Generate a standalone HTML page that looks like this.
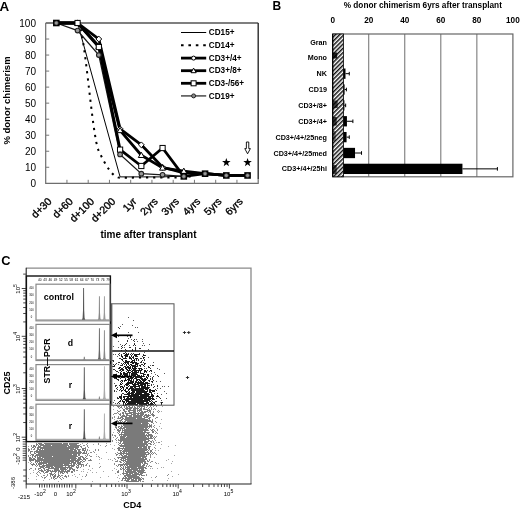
<!DOCTYPE html>
<html><head><meta charset="utf-8"><style>
html,body{margin:0;padding:0;background:#fff;}
svg{display:block;filter:grayscale(1);}
text{font-family:"Liberation Sans",sans-serif;fill:#000;}
.b{font-weight:bold;}
</style></head><body>
<svg width="520" height="508" viewBox="0 0 520 508">
<text x="-0.6" y="11" class="b" font-size="13.4">A</text>
<path d="M45.7 23H258.2" fill="none" stroke="#555" stroke-width="1.4"/>
<path d="M258.2 23V179.3" fill="none" stroke="#2a2a2a" stroke-width="1.4"/>
<path d="M45.7 23V183.3H258.2V179.3" fill="none" stroke="#6e6e6e" stroke-width="1.2"/>
<text x="36" y="186.9" text-anchor="end" font-size="10">0</text>
<text x="36" y="170.87" text-anchor="end" font-size="10">10</text>
<text x="36" y="154.84" text-anchor="end" font-size="10">20</text>
<text x="36" y="138.81" text-anchor="end" font-size="10">30</text>
<text x="36" y="122.78" text-anchor="end" font-size="10">40</text>
<text x="36" y="106.75" text-anchor="end" font-size="10">50</text>
<text x="36" y="90.72" text-anchor="end" font-size="10">60</text>
<text x="36" y="74.69" text-anchor="end" font-size="10">70</text>
<text x="36" y="58.66" text-anchor="end" font-size="10">80</text>
<text x="36" y="42.63" text-anchor="end" font-size="10">90</text>
<text x="36" y="26.6" text-anchor="end" font-size="10">100</text>
<path d="M45.7 167.27h3.5M45.7 151.24h3.5M45.7 135.21h3.5M45.7 119.18h3.5M45.7 103.15h3.5M45.7 87.12h3.5M45.7 71.09h3.5M45.7 55.06h3.5M45.7 39.03h3.5M66.95 183.3v-3.5M88.2 183.3v-3.5M109.45 183.3v-3.5M130.7 183.3v-3.5M151.95 183.3v-3.5M173.2 183.3v-3.5M194.45 183.3v-3.5M215.7 183.3v-3.5M236.95 183.3v-3.5" stroke="#777" stroke-width="1"/>
<text transform="translate(9.6 100.5) rotate(-90)" text-anchor="middle" class="b" font-size="9.5">% donor chimerism</text>
<text transform="translate(52.33 202) rotate(-45)" text-anchor="end" font-size="10.5" stroke="#000" stroke-width="0.35">d+30</text>
<text transform="translate(73.58 202) rotate(-45)" text-anchor="end" font-size="10.5" stroke="#000" stroke-width="0.35">d+60</text>
<text transform="translate(94.83 202) rotate(-45)" text-anchor="end" font-size="10.5" stroke="#000" stroke-width="0.35">d+100</text>
<text transform="translate(116.08 202) rotate(-45)" text-anchor="end" font-size="10.5" stroke="#000" stroke-width="0.35">d+200</text>
<text transform="translate(137.32 202) rotate(-45)" text-anchor="end" font-size="10.5" stroke="#000" stroke-width="0.35">1yr</text>
<text transform="translate(158.57 202) rotate(-45)" text-anchor="end" font-size="10.5" stroke="#000" stroke-width="0.35">2yrs</text>
<text transform="translate(179.82 202) rotate(-45)" text-anchor="end" font-size="10.5" stroke="#000" stroke-width="0.35">3yrs</text>
<text transform="translate(201.07 202) rotate(-45)" text-anchor="end" font-size="10.5" stroke="#000" stroke-width="0.35">4yrs</text>
<text transform="translate(222.32 202) rotate(-45)" text-anchor="end" font-size="10.5" stroke="#000" stroke-width="0.35">5yrs</text>
<text transform="translate(243.57 202) rotate(-45)" text-anchor="end" font-size="10.5" stroke="#000" stroke-width="0.35">6yrs</text>
<text x="148.5" y="238" text-anchor="middle" class="b" font-size="10">time after transplant</text>
<path d="M56.33 23L77.58 23L120.08 176.89L141.32 176.89L162.57 176.89L183.82 176.09L205.07 173.68L226.32 175.45L247.57 175.45" fill="none" stroke="#000" stroke-width="1"/>
<path d="M56.33 23C63.41 23 70.49 23 77.58 23C84.66 23 91.74 136.55 98.83 151.24C105.91 165.93 112.99 177.85 120.08 177.85C127.16 177.85 134.24 177.53 141.32 177.53C148.41 177.53 155.49 177.53 162.57 177.53C169.66 177.53 176.74 177.4 183.82 177.21C190.91 177.01 197.99 173.68 205.07 173.68C212.16 173.68 219.24 175.45 226.32 175.45C233.41 175.45 240.49 175.45 247.57 175.45" fill="none" stroke="#000" stroke-width="2" stroke-dasharray="2.2 4.9"/>
<path d="M56.33 23L77.58 30.53L98.83 55.06L120.08 154.45L141.32 173.68L162.57 174.8L183.82 176.41L205.07 173.68L226.32 175.45L247.57 175.45" fill="none" stroke="#1a1a1a" stroke-width="1.3"/>
<path d="M56.33 23L77.58 23L98.83 47.04L120.08 149.64L141.32 165.99L162.57 148.03L183.82 176.41L205.07 173.68L226.32 175.45L247.57 175.45" fill="none" stroke="#000" stroke-width="2.8" stroke-linejoin="round"/>
<path d="M56.33 23L77.58 23L98.83 46.24L120.08 130.4L141.32 155.25L162.57 167.91L183.82 171.12L205.07 173.68L226.32 175.45L247.57 175.45" fill="none" stroke="#000" stroke-width="2.8" stroke-linejoin="round"/>
<path d="M56.33 23L77.58 23L98.83 39.03L120.08 128.8L141.32 144.83L162.57 167.27L183.82 172.88L205.07 173.68L226.32 175.45L247.57 175.45" fill="none" stroke="#000" stroke-width="2.8" stroke-linejoin="round"/>
<path d="M77.58 20.1L80.48 23L77.58 25.9L74.67 23Z" fill="#fff" stroke="#000" stroke-width="1"/>
<path d="M98.83 36.13L101.73 39.03L98.83 41.93L95.92 39.03Z" fill="#fff" stroke="#000" stroke-width="1"/>
<path d="M120.08 125.9L122.98 128.8L120.08 131.7L117.17 128.8Z" fill="#fff" stroke="#000" stroke-width="1"/>
<path d="M141.32 141.93L144.22 144.83L141.32 147.73L138.42 144.83Z" fill="#fff" stroke="#000" stroke-width="1"/>
<path d="M162.57 164.37L165.47 167.27L162.57 170.17L159.67 167.27Z" fill="#fff" stroke="#000" stroke-width="1"/>
<path d="M77.58 20L80.58 25.25L74.58 25.25Z" fill="#fff" stroke="#000" stroke-width="1"/>
<path d="M98.83 43.24L101.83 48.49L95.83 48.49Z" fill="#fff" stroke="#000" stroke-width="1"/>
<path d="M120.08 127.4L123.08 132.65L117.08 132.65Z" fill="#fff" stroke="#000" stroke-width="1"/>
<path d="M141.32 152.25L144.32 157.5L138.32 157.5Z" fill="#fff" stroke="#000" stroke-width="1"/>
<path d="M162.57 164.91L165.57 170.16L159.57 170.16Z" fill="#fff" stroke="#000" stroke-width="1"/>
<path d="M183.82 168.12L186.82 173.37L180.82 173.37Z" fill="#fff" stroke="#000" stroke-width="1"/>
<rect x="74.98" y="20.4" width="5.2" height="5.2" fill="#fff" stroke="#000" stroke-width="1"/>
<rect x="96.23" y="44.44" width="5.2" height="5.2" fill="#fff" stroke="#000" stroke-width="1"/>
<rect x="117.48" y="147.04" width="5.2" height="5.2" fill="#fff" stroke="#000" stroke-width="1"/>
<rect x="138.72" y="163.39" width="5.2" height="5.2" fill="#fff" stroke="#000" stroke-width="1"/>
<rect x="159.97" y="145.43" width="5.2" height="5.2" fill="#fff" stroke="#000" stroke-width="1"/>
<rect x="53.03" y="19.7" width="6.6" height="6.6" fill="#000"/>
<circle cx="56.33" cy="23" r="1.9" fill="#9a9a9a" stroke="#444" stroke-width="0.7"/>
<circle cx="77.58" cy="30.53" r="2.35" fill="#999" stroke="#222" stroke-width="1.1"/>
<circle cx="98.83" cy="55.06" r="2.35" fill="#999" stroke="#222" stroke-width="1.1"/>
<circle cx="120.08" cy="154.45" r="2.35" fill="#999" stroke="#222" stroke-width="1.1"/>
<circle cx="141.32" cy="173.68" r="2.35" fill="#999" stroke="#222" stroke-width="1.1"/>
<circle cx="162.57" cy="174.8" r="2.35" fill="#999" stroke="#222" stroke-width="1.1"/>
<rect x="180.52" y="173.11" width="6.6" height="6.6" fill="#000"/>
<circle cx="183.82" cy="176.41" r="1.9" fill="#9a9a9a" stroke="#444" stroke-width="0.7"/>
<rect x="201.77" y="170.38" width="6.6" height="6.6" fill="#000"/>
<circle cx="205.07" cy="173.68" r="1.9" fill="#9a9a9a" stroke="#444" stroke-width="0.7"/>
<rect x="223.02" y="172.15" width="6.6" height="6.6" fill="#000"/>
<circle cx="226.32" cy="175.45" r="1.9" fill="#9a9a9a" stroke="#444" stroke-width="0.7"/>
<rect x="244.27" y="172.15" width="6.6" height="6.6" fill="#000"/>
<circle cx="247.57" cy="175.45" r="1.9" fill="#9a9a9a" stroke="#444" stroke-width="0.7"/>
<path d="M226.32 158L227.38 161.04L230.6 161.11L228.04 163.06L228.97 166.14L226.32 164.3L223.68 166.14L224.61 163.06L222.05 161.11L225.27 161.04Z" fill="#000"/>
<path d="M247.57 158L248.63 161.04L251.85 161.11L249.29 163.06L250.22 166.14L247.57 164.3L244.93 166.14L245.86 163.06L243.3 161.11L246.52 161.04Z" fill="#000"/>
<path d="M246.38 142h2.4v6.6h1.6L247.57 153.8L244.77 148.6h1.6Z" fill="#fff" stroke="#000" stroke-width="0.9"/>
<path d="M181 32.5H206.2" stroke="#000" stroke-width="1"/>
<path d="M181 45.2H206.2" stroke="#000" stroke-width="2" stroke-dasharray="2.6 4.8"/>
<path d="M181 58.1H206.2" stroke="#000" stroke-width="2.8"/>
<path d="M181 70.7H206.2" stroke="#000" stroke-width="2.8"/>
<path d="M181 83.3H206.2" stroke="#000" stroke-width="2.8"/>
<path d="M181 95.9H206.2" stroke="#555" stroke-width="1.6"/>
<circle cx="193.6" cy="58.1" r="2" fill="#fff" stroke="#000" stroke-width="1"/>
<path d="M193.6 68.1L196.2 72.7L191 72.7Z" fill="#fff" stroke="#000" stroke-width="1"/>
<rect x="191.1" y="80.8" width="5" height="5" fill="#fff" stroke="#000" stroke-width="1"/>
<circle cx="193.6" cy="95.9" r="2" fill="#8a8a8a" stroke="#222" stroke-width="1"/>
<text x="208.8" y="34.85" class="b" font-size="8.2">CD15+</text>
<text x="208.8" y="47.95" class="b" font-size="8.2">CD14+</text>
<text x="208.8" y="60.85" class="b" font-size="8.2">CD3+/4+</text>
<text x="208.8" y="73.45" class="b" font-size="8.2">CD3+/8+</text>
<text x="208.8" y="86.05" class="b" font-size="8.2">CD3-/56+</text>
<text x="208.8" y="98.65" class="b" font-size="8.2">CD19+</text>
<text x="272.6" y="10.2" class="b" font-size="12">B</text>
<text x="422.8" y="8" text-anchor="middle" class="b" font-size="8.25">% donor chimerism 6yrs after transplant</text>
<text x="332.7" y="23.2" text-anchor="middle" class="b" font-size="8.2">0</text>
<text x="368.74" y="23.2" text-anchor="middle" class="b" font-size="8.2">20</text>
<text x="404.78" y="23.2" text-anchor="middle" class="b" font-size="8.2">40</text>
<text x="440.82" y="23.2" text-anchor="middle" class="b" font-size="8.2">60</text>
<text x="476.86" y="23.2" text-anchor="middle" class="b" font-size="8.2">80</text>
<text x="512.9" y="23.2" text-anchor="middle" class="b" font-size="8.2">100</text>
<path d="M368.74 34.0V176.8M404.78 34.0V176.8M440.82 34.0V176.8M476.86 34.0V176.8" stroke="#6e6e6e" stroke-width="1"/>
<rect x="332.7" y="34.0" width="180.2" height="142.8" fill="none" stroke="#666" stroke-width="1.2"/>
<defs><pattern id="hat" patternUnits="userSpaceOnUse" width="3" height="4" patternTransform="rotate(45)"><rect width="3" height="4" fill="#fff"/><rect width="1.5" height="4" fill="#111"/></pattern></defs>
<rect x="332.7" y="34.0" width="10.72" height="142.8" fill="url(#hat)" stroke="#000" stroke-width="0.8"/>
<rect x="332.7" y="52.5" width="4.5" height="6" fill="#000" opacity="0.85"/>
<rect x="332.7" y="100.5" width="5" height="7.5" fill="#000" opacity="0.7"/>
<rect x="332.7" y="117" width="4" height="8.5" fill="#000" opacity="0.75"/>
<rect x="332.7" y="131" width="3" height="10" fill="#000" opacity="0.5"/>
<rect x="332.7" y="165" width="4" height="9" fill="#000" opacity="0.7"/>
<rect x="343.42" y="68.52" width="2.07" height="10.3" fill="#000"/>
<path d="M345.49 73.67H349.28M349.28 71.87v3.6" stroke="#000" stroke-width="1"/>
<rect x="343.42" y="84.38" width="1.17" height="10.3" fill="#000"/>
<path d="M344.59 89.53H346.4M346.4 87.73v3.6" stroke="#000" stroke-width="1"/>
<rect x="343.42" y="100.25" width="0.99" height="10.3" fill="#000"/>
<path d="M344.41 105.4H345.67M345.67 103.6v3.6" stroke="#000" stroke-width="1"/>
<rect x="343.42" y="116.12" width="3.51" height="10.3" fill="#000"/>
<path d="M346.94 121.27H352.88M352.88 119.47v3.6" stroke="#000" stroke-width="1"/>
<rect x="343.42" y="131.98" width="3.15" height="10.3" fill="#000"/>
<path d="M346.58 137.13H349.28M349.28 135.33v3.6" stroke="#000" stroke-width="1"/>
<rect x="343.42" y="147.85" width="11.62" height="10.3" fill="#000"/>
<path d="M355.04 153H361.53M361.53 151.2v3.6" stroke="#000" stroke-width="1"/>
<rect x="343.42" y="163.72" width="119.02" height="10.3" fill="#000"/>
<path d="M462.44 168.87H497.4M497.4 167.07v3.6" stroke="#000" stroke-width="1"/>
<path d="M332.7 34.0V176.8" stroke="#000" stroke-width="1.2"/>
<text x="327" y="44.53" text-anchor="end" class="b" font-size="7.2">Gran</text>
<text x="327" y="60.4" text-anchor="end" class="b" font-size="7.2">Mono</text>
<text x="327" y="76.27" text-anchor="end" class="b" font-size="7.2">NK</text>
<text x="327" y="92.13" text-anchor="end" class="b" font-size="7.2">CD19</text>
<text x="327" y="108" text-anchor="end" class="b" font-size="7.2">CD3+/8+</text>
<text x="327" y="123.87" text-anchor="end" class="b" font-size="7.2">CD3+/4+</text>
<text x="327" y="139.73" text-anchor="end" class="b" font-size="7.2">CD3+/4+/25neg</text>
<text x="327" y="155.6" text-anchor="end" class="b" font-size="7.2">CD3+/4+/25med</text>
<text x="327" y="171.47" text-anchor="end" class="b" font-size="7.2">CD3+/4+/25hi</text>
<text x="1.2" y="264.8" class="b" font-size="12.8">C</text>
<g transform="translate(0 0.5)" fill="none" stroke-width="1">
<path d="M113 406h1M162 406h1M113 409h1M161 411h1M114 419h1M161 419h1M160 423h1M159 426h1M161 428h1M114 429h1M113 432h1M113 437h1M161 441h1M116 442h1M156 442h1M82 443h1M106 443h1M93 444h1M110 444h1M161 444h1M100 445h1M114 445h1M155 445h1M175 445h1M28 446h1M168 446h1M112 448h1M160 448h1M114 449h1M89 450h1M155 450h1M158 450h1M106 452h1M96 454h1M174 455h1M96 456h1M154 457h1M101 458h1M99 459h1M108 459h1M110 459h1M168 459h1M112 460h1M166 460h1M172 461h1M28 462h1M99 463h1M158 463h1M171 463h1M161 467h1M163 467h1M92 468h1M114 468h1M150 468h1M152 468h1M157 468h1M83 469h1M88 469h1M116 469h1M33 470h1M90 470h1M112 470h1M81 471h1M83 471h1M103 471h1M171 471h1M33 472h1M87 472h1M92 472h1M96 472h1M30 473h1M115 473h1M74 474h1M79 474h1M120 474h1M178 474h1M72 475h1M118 475h1M36 476h1M75 476h1M82 476h1M108 476h1M172 476h1M77 477h1M100 477h1M117 477h1M151 477h1M28 478h1M119 478h1M168 478h1M36 479h1M49 479h1M81 479h1M43 480h1M152 480h1M167 480h1M58 481h1M92 481h1M118 481h1" stroke="#a8a8a8"/>
<path d="M160 402h1M116 405h1M120 405h1M156 405h1M153 406h1M156 406h1M124 407h1M146 407h1M149 407h1M151 407h1M119 408h1M122 408h1M151 408h1M154 408h1M151 409h1M153 409h1M155 409h1M117 410h1M120 410h1M158 410h1M119 411h1M126 411h1M153 411h1M157 411h1M159 411h1M148 412h1M153 412h1M158 412h1M114 413h3M118 413h1M120 413h1M150 413h1M113 414h1M150 415h1M114 416h1M118 416h1M112 417h1M114 417h1M150 417h1M156 417h2M112 418h1M117 418h1M155 418h1M152 419h1M117 420h1M155 421h1M114 422h1M156 422h1M114 423h1M116 423h2M153 423h1M114 424h1M151 424h1M121 425h1M154 425h1M115 426h1M118 426h1M153 426h1M151 427h1M154 427h1M156 428h1M150 429h1M157 429h1M148 430h1M157 430h1M155 431h1M117 432h1M149 432h1M155 433h1M157 433h1M112 434h1M112 435h1M114 435h2M115 436h1M154 436h1M156 436h1M117 437h1M116 438h1M115 439h1M118 439h1M154 439h1M112 440h1M116 440h1M118 440h1M152 440h1M155 440h1M112 441h1M153 441h1M118 442h1M153 442h1M158 442h2M36 443h1M78 443h1M87 443h1M98 443h1M154 443h1M80 444h1M86 444h1M98 444h1M118 444h1M151 444h1M153 444h1M31 445h1M83 445h2M87 445h1M106 445h1M31 446h1M81 446h1M87 446h1M105 446h1M150 446h1M85 447h1M88 447h1M154 447h1M28 448h1M31 448h1M155 448h1M31 449h1M33 449h2M80 449h1M87 449h1M95 449h1M98 449h1M152 449h1M87 450h1M95 450h1M98 450h1M28 451h1M32 451h1M34 451h1M93 451h1M90 452h2M94 452h1M117 452h1M154 452h1M30 453h1M88 453h1M115 453h1M155 453h1M152 454h1M156 454h1M28 455h1M30 455h1M85 455h1M87 455h1M89 455h1M116 455h1M119 455h1M150 455h1M28 456h1M90 456h2M98 456h1M150 456h1M99 457h1M117 457h1M150 457h1M87 458h1M114 458h1M115 459h1M149 459h1M88 460h1M91 460h1M117 460h1M149 460h1M84 461h1M115 461h1M117 461h1M119 461h1M147 461h1M151 461h2M31 462h1M82 462h1M121 462h1M150 462h1M155 462h1M30 463h1M87 463h1M114 463h1M147 463h1M156 463h1M83 464h1M114 464h1M118 464h1M85 465h2M89 465h1M116 465h1M146 465h1M149 465h1M36 466h1M81 466h1M83 466h1M89 466h1M100 466h1M117 466h1M146 466h1M148 466h1M150 466h2M80 467h1M99 467h1M30 468h2M35 468h1M38 468h1M146 468h1M29 469h1M35 469h1M120 469h1M76 470h2M118 470h1M74 471h1M123 471h1M37 472h1M39 472h1M145 472h1M36 473h1M40 473h1M44 473h1M49 473h1M58 473h1M60 473h1M67 473h1M37 474h1M47 474h1M86 474h1M146 474h1M168 474h1M38 475h1M43 475h2M47 475h1M61 475h2M68 475h1M86 475h1M143 475h2M146 475h1M167 475h1M41 476h1M46 476h1M50 476h1M64 476h1M68 476h1M85 476h1M156 476h1M42 477h1M44 477h1M51 477h1M62 477h1M66 477h1M141 477h1M155 477h1M44 478h1M51 478h1M56 478h1M60 478h1M63 478h1M143 478h1M54 479h1M61 479h1M143 479h1M121 480h2M124 480h1M140 481h1M142 481h2" stroke="#8c8c8c"/>
<path d="M134 388h1M122 405h1M124 405h1M126 405h1M129 405h5M135 405h1M137 405h1M139 405h2M144 405h1M148 405h1M150 405h2M154 405h1M117 406h3M121 406h1M124 406h1M126 406h1M128 406h2M132 406h1M134 406h1M137 406h8M147 406h1M150 406h1M118 407h1M120 407h2M126 407h2M129 407h4M134 407h2M137 407h1M139 407h1M141 407h1M144 407h1M125 408h7M133 408h6M140 408h2M143 408h2M148 408h1M123 409h2M126 409h2M129 409h2M133 409h3M137 409h1M139 409h3M143 409h5M149 409h1M123 410h2M128 410h8M137 410h5M147 410h4M118 411h1M124 411h2M128 411h2M133 411h3M137 411h1M139 411h1M141 411h2M144 411h4M149 411h2M117 412h1M122 412h2M125 412h1M129 412h7M138 412h1M140 412h6M150 412h1M122 413h2M125 413h7M133 413h11M152 413h1M119 414h2M123 414h1M126 414h2M131 414h5M137 414h2M140 414h4M145 414h2M148 414h1M151 414h3M120 415h1M122 415h3M126 415h6M133 415h10M144 415h6M152 415h3M121 416h6M129 416h3M133 416h9M143 416h2M146 416h3M153 416h1M118 417h1M120 417h3M125 417h17M144 417h4M149 417h1M118 418h3M122 418h2M125 418h11M137 418h8M148 418h2M121 419h2M124 419h24M149 419h1M119 420h3M125 420h26M152 420h1M117 421h2M120 421h1M122 421h1M124 421h2M127 421h26M118 422h4M123 422h2M126 422h22M151 422h2M120 423h3M124 423h17M142 423h7M123 424h25M149 424h1M123 425h25M149 425h3M119 426h1M121 426h2M124 426h28M115 427h2M118 427h1M120 427h2M123 427h25M149 427h1M116 428h1M119 428h6M126 428h18M145 428h2M148 428h1M117 429h2M120 429h1M122 429h1M124 429h24M152 429h2M117 430h4M122 430h26M151 430h2M154 430h1M118 431h2M122 431h1M124 431h19M144 431h2M152 431h2M119 432h1M121 432h28M152 432h2M156 432h1M118 433h1M121 433h1M124 433h21M147 433h2M119 434h26M146 434h1M148 434h4M119 435h1M121 435h1M123 435h30M120 436h6M127 436h19M147 436h2M150 436h3M120 437h5M126 437h21M148 437h1M150 437h2M153 437h1M155 437h1M120 438h33M154 438h1M120 439h29M119 440h27M148 440h2M120 441h2M123 441h20M144 441h5M150 441h2M120 442h1M123 442h20M144 442h4M151 442h1M38 443h4M44 443h18M63 443h5M69 443h9M119 443h2M122 443h25M148 443h3M36 444h2M39 444h5M45 444h23M69 444h8M121 444h1M124 444h24M150 444h1M33 445h2M36 445h1M38 445h1M40 445h11M52 445h17M70 445h10M119 445h26M146 445h2M33 446h3M38 446h3M43 446h24M68 446h11M80 446h1M120 446h27M148 446h2M32 447h2M35 447h1M37 447h42M81 447h1M118 447h2M123 447h1M125 447h13M139 447h3M143 447h4M148 447h2M34 448h1M37 448h2M40 448h34M75 448h3M82 448h4M117 448h30M148 448h2M28 449h2M37 449h4M42 449h1M44 449h25M70 449h6M77 449h3M82 449h2M85 449h1M118 449h2M122 449h1M124 449h24M149 449h1M28 450h2M36 450h2M39 450h34M74 450h3M78 450h2M82 450h4M118 450h4M123 450h24M148 450h1M150 450h2M30 451h2M35 451h42M78 451h3M84 451h1M86 451h1M120 451h1M122 451h23M147 451h1M150 451h2M30 452h1M34 452h1M36 452h46M83 452h2M86 452h1M120 452h2M123 452h2M126 452h1M128 452h21M150 452h1M152 452h1M34 453h2M38 453h43M82 453h5M118 453h28M148 453h2M151 453h1M153 453h1M31 454h3M36 454h36M73 454h4M78 454h2M87 454h1M116 454h2M120 454h2M123 454h1M126 454h23M150 454h1M32 455h2M35 455h42M78 455h2M121 455h2M124 455h3M128 455h17M146 455h1M32 456h1M34 456h2M37 456h1M39 456h13M53 456h25M80 456h3M86 456h1M122 456h25M29 457h2M32 457h1M35 457h1M37 457h4M42 457h34M78 457h3M82 457h2M85 457h1M118 457h23M142 457h4M29 458h3M33 458h2M37 458h6M44 458h33M78 458h3M83 458h2M86 458h1M118 458h1M121 458h5M127 458h17M145 458h2M29 459h7M37 459h33M71 459h5M77 459h5M83 459h3M90 459h1M120 459h2M123 459h1M125 459h22M29 460h5M35 460h45M82 460h1M85 460h1M89 460h2M121 460h5M127 460h18M147 460h1M30 461h1M35 461h5M41 461h1M43 461h31M75 461h4M80 461h2M83 461h1M116 461h1M120 461h1M123 461h1M125 461h21M148 461h1M35 462h1M37 462h1M39 462h31M71 462h5M77 462h4M120 462h1M124 462h1M126 462h17M144 462h2M33 463h1M36 463h1M38 463h9M48 463h24M73 463h3M77 463h4M123 463h1M125 463h16M142 463h1M144 463h3M31 464h4M36 464h1M38 464h4M43 464h1M46 464h17M64 464h5M71 464h1M73 464h2M76 464h1M78 464h5M86 464h1M119 464h22M143 464h2M147 464h1M32 465h1M35 465h1M37 465h1M39 465h1M42 465h33M77 465h2M81 465h1M83 465h1M118 465h1M120 465h3M124 465h1M126 465h2M129 465h12M142 465h3M39 466h6M46 466h7M54 466h9M65 466h1M68 466h2M71 466h3M76 466h1M78 466h1M120 466h1M123 466h1M125 466h1M127 466h17M40 467h4M45 467h5M51 467h3M55 467h17M76 467h3M121 467h1M123 467h1M125 467h12M138 467h8M39 468h2M43 468h2M48 468h11M60 468h6M67 468h1M69 468h4M77 468h1M120 468h1M122 468h2M125 468h1M127 468h3M131 468h13M145 468h1M38 469h1M41 469h1M44 469h1M46 469h3M54 469h5M60 469h7M69 469h2M72 469h3M121 469h1M123 469h2M126 469h12M139 469h1M141 469h3M39 470h4M44 470h2M47 470h4M52 470h1M54 470h6M61 470h3M65 470h1M67 470h3M73 470h2M123 470h1M125 470h1M127 470h5M133 470h12M38 471h1M41 471h3M46 471h3M50 471h7M58 471h12M71 471h2M117 471h2M125 471h11M137 471h7M43 472h1M45 472h3M51 472h1M55 472h1M58 472h1M60 472h3M64 472h1M66 472h2M71 472h2M117 472h2M123 472h1M126 472h11M138 472h7M50 473h2M54 473h1M62 473h2M122 473h6M129 473h4M134 473h5M140 473h3M50 474h4M55 474h1M58 474h1M123 474h1M126 474h5M132 474h10M50 475h1M52 475h1M54 475h2M58 475h2M65 475h1M124 475h13M139 475h1M141 475h2M53 476h3M57 476h2M60 476h1M65 476h2M124 476h2M127 476h12M45 477h1M53 477h2M57 477h1M59 477h1M123 477h1M125 477h2M128 477h12M53 478h1M55 478h1M122 478h10M133 478h8M142 478h1M122 479h1M125 479h1M127 479h3M131 479h3M135 479h2M138 479h4M125 480h4M131 480h6M138 480h3M126 481h13" stroke="#7a7a7a"/>
<path d="M128 317h1M133 320h1M122 324h1M132 325h1M120 326h1M135 327h1M137 327h1M128 332h1M138 332h1M116 334h1M118 336h1M127 336h1M128 338h1M131 339h1M136 339h1M142 339h1M118 341h1M137 341h1M142 341h1M143 343h1M120 344h1M149 344h1M129 345h1M142 345h1M144 345h1M113 346h1M118 347h1M124 347h1M148 349h1M121 350h1M144 352h1M113 354h1M115 354h1M117 356h1M148 357h1M153 362h1M118 364h1M150 365h1M144 368h1M146 368h1M157 368h1M159 369h1M154 372h1M151 373h1M164 373h1M155 374h1M150 376h1M114 378h1M156 381h1M160 381h1M114 383h1M153 384h1M162 386h1M164 386h1M168 386h1M157 388h1M160 388h1M116 391h1M164 391h1M154 393h1M157 393h1M166 393h1M161 394h1M156 398h1M166 398h1M114 400h1M161 400h1M113 402h1M115 403h1" stroke="#5a5a5a"/>
<path d="M118 327h1M119 328h1M130 336h1M130 337h1M134 339h1M127 340h1M133 340h1M127 341h1M134 341h1M126 343h1M134 343h1M125 344h1M122 345h1M124 345h1M133 345h1M135 345h1M121 346h1M122 347h1M129 347h2M135 347h1M121 348h1M135 348h1M139 348h2M125 349h1M132 349h1M135 349h1M126 350h1M132 350h1M135 350h1M125 352h1M119 353h1M123 353h1M128 353h1M131 353h1M133 353h1M139 353h1M118 354h1M121 354h1M130 354h1M139 354h1M143 354h1M119 355h1M145 355h1M129 356h1M137 356h1M142 356h1M144 357h1M119 358h2M126 358h1M140 358h2M138 359h1M144 359h1M112 360h2M136 360h1M138 360h1M142 360h1M144 360h1M113 361h1M123 361h1M118 362h2M140 362h2M143 362h1M116 363h1M121 363h1M138 363h1M145 363h1M113 364h1M115 364h1M124 364h1M141 364h2M120 365h1M122 365h1M139 365h1M152 365h2M112 366h1M114 366h1M137 366h1M140 366h1M144 366h1M148 366h1M123 367h1M148 367h1M118 368h1M138 368h1M150 368h1M113 369h2M115 370h1M119 370h1M147 370h1M151 370h1M116 371h2M126 371h1M149 371h1M151 371h1M118 372h1M138 372h1M146 372h1M140 373h1M113 374h1M115 374h1M129 374h1M145 374h1M117 375h2M157 375h1M114 376h1M144 376h1M153 376h1M158 376h1M118 377h2M152 377h1M116 378h1M120 378h1M125 378h1M150 378h1M152 378h1M118 379h1M150 379h1M152 379h1M118 380h1M122 380h1M148 380h1M153 380h1M120 381h1M124 381h1M149 381h1M151 381h1M152 382h1M122 383h1M149 383h1M151 384h1M115 385h2M119 385h1M124 385h1M149 385h1M151 385h1M157 385h1M115 386h1M124 386h1M154 386h1M157 386h1M117 387h1M149 387h1M153 387h1M116 388h1M117 389h1M155 389h1M114 390h1M119 390h1M156 390h1M114 391h1M121 391h1M122 393h2M121 394h1M124 394h2M156 396h1M117 397h1M159 397h1M117 398h1M160 398h1M154 399h1M120 401h1M155 401h2M162 402h1M117 403h1M119 403h1M161 404h1" stroke="#333"/>
<path d="M134 344h1M124 353h1M126 353h1M125 354h4M132 354h1M134 354h5M121 355h1M124 355h4M131 355h1M134 355h3M143 355h2M121 356h2M125 356h3M131 356h1M133 356h1M135 356h2M122 357h1M125 357h1M129 357h2M132 357h2M143 357h1M123 358h3M129 358h3M133 358h1M135 358h3M143 358h1M121 359h2M131 359h1M134 359h1M136 359h1M122 360h1M125 360h2M132 360h3M125 361h5M131 361h2M134 361h1M141 361h1M124 362h5M130 362h7M123 363h1M125 363h1M127 363h2M132 363h2M135 363h3M144 363h1M122 364h1M126 364h1M128 364h1M130 364h2M135 364h3M144 364h1M114 365h1M121 365h1M126 365h1M129 365h1M131 365h5M137 365h1M140 365h1M143 365h1M113 366h1M124 366h2M127 366h2M130 366h1M132 366h5M119 367h2M125 367h6M132 367h1M134 367h2M149 367h1M119 368h1M121 368h2M125 368h2M128 368h3M132 368h5M139 368h3M120 369h4M126 369h2M129 369h1M131 369h1M133 369h3M139 369h1M141 369h2M120 370h1M122 370h2M127 370h4M132 370h10M144 370h2M150 370h1M121 371h1M128 371h1M131 371h2M134 371h3M138 371h1M140 371h1M144 371h3M120 372h1M123 372h2M127 372h4M132 372h6M140 372h1M144 372h1M120 373h2M123 373h5M129 373h1M131 373h6M141 373h3M114 374h1M120 374h2M123 374h5M131 374h7M143 374h2M147 374h2M113 375h1M119 375h2M122 375h1M124 375h4M129 375h1M131 375h5M137 375h3M141 375h1M143 375h1M147 375h2M122 376h2M125 376h2M128 376h3M133 376h11M146 376h1M148 376h1M121 377h4M127 377h2M130 377h4M135 377h7M146 377h2M128 378h5M134 378h3M140 378h3M144 378h2M147 378h1M117 379h1M125 379h1M127 379h3M131 379h1M133 379h1M136 379h4M141 379h6M121 380h1M124 380h3M128 380h4M133 380h1M136 380h2M139 380h2M142 380h4M149 380h1M122 381h1M128 381h1M130 381h4M135 381h2M138 381h1M140 381h2M143 381h2M152 381h1M121 382h1M127 382h7M135 382h9M145 382h3M120 383h1M126 383h7M134 383h2M137 383h12M120 384h2M125 384h4M132 384h7M140 384h6M147 384h1M126 385h2M129 385h1M133 385h3M138 385h5M144 385h2M147 385h2M120 386h3M128 386h1M130 386h10M141 386h5M147 386h1M120 387h1M122 387h2M126 387h2M130 387h3M134 387h2M139 387h1M141 387h8M121 388h1M123 388h1M126 388h2M129 388h5M135 388h14M120 389h1M123 389h1M125 389h1M128 389h2M131 389h13M145 389h3M149 389h2M121 390h2M124 390h2M128 390h1M131 390h14M147 390h1M149 390h6M125 391h3M129 391h1M132 391h3M136 391h12M149 391h2M152 391h3M126 392h1M128 392h2M131 392h4M136 392h11M149 392h3M127 393h7M135 393h7M144 393h5M151 393h1M126 394h4M131 394h19M151 394h2M121 395h1M128 395h11M140 395h9M151 395h3M157 395h1M119 396h3M123 396h31M157 396h2M119 397h3M123 397h2M127 397h2M130 397h2M133 397h14M148 397h3M152 397h1M118 398h1M120 398h2M124 398h1M126 398h28M121 399h1M123 399h20M144 399h7M152 399h2M120 400h1M122 400h1M125 400h4M131 400h19M151 400h1M119 401h1M122 401h3M126 401h22M149 401h2M152 401h1M118 402h1M123 402h2M126 402h1M128 402h16M146 402h3M151 402h1M153 402h2M161 402h1M123 403h1M125 403h1M127 403h9M137 403h12M150 403h3M154 403h1M161 403h1M123 404h1M125 404h13M139 404h8M148 404h6M155 404h1M123 405h1M125 405h1M136 405h1M141 405h2M146 405h2" stroke="#1a1a1a"/>
</g>
<path d="M26.2 268.2H251V484.0" fill="none" stroke="#8a8a8a" stroke-width="1.3"/>
<path d="M26.2 267.7V484.0H251.5" fill="none" stroke="#222" stroke-width="1.1"/>
<path d="M26.2 437.2h-4.5M26.2 422.54h-3M26.2 413.96h-3M26.2 407.88h-3M26.2 403.16h-3M26.2 399.3h-3M26.2 396.04h-3M26.2 393.22h-3M26.2 390.73h-3M26.2 388.5h-4.5M26.2 372.79h-3M26.2 363.59h-3M26.2 357.07h-3M26.2 352.01h-3M26.2 347.88h-3M26.2 344.39h-3M26.2 341.36h-3M26.2 338.69h-3M26.2 336.3h-4.5M26.2 321.91h-3M26.2 313.49h-3M26.2 307.52h-3M26.2 302.89h-3M26.2 299.1h-3M26.2 295.9h-3M26.2 293.13h-3M26.2 290.69h-3M26.2 288.5h-4.5M26.2 274.11h-3M26.2 439.5h-3.5M26.2 441.8h-3.5M26.2 444.1h-3.5M26.2 446.4h-3.5M26.2 448.7h-3.5M26.2 451h-3.5M26.2 453.3h-3.5M26.2 455.6h-3.5M26.2 457.9h-3.5M26.2 460.2h-3.5M26.2 470h-3M26.2 476h-3M26.2 481h-3M75.8 484.0v4.5M91.21 484.0v3M100.23 484.0v3M106.63 484.0v3M111.59 484.0v3M115.64 484.0v3M119.07 484.0v3M122.04 484.0v3M124.66 484.0v3M127 484.0v4.5M142.41 484.0v3M151.43 484.0v3M157.83 484.0v3M162.79 484.0v3M166.84 484.0v3M170.27 484.0v3M173.24 484.0v3M175.86 484.0v3M178.2 484.0v4.5M193.61 484.0v3M202.63 484.0v3M209.03 484.0v3M213.99 484.0v3M218.04 484.0v3M221.47 484.0v3M224.44 484.0v3M227.06 484.0v3M229.4 484.0v4.5M39.5 484.0v3.5M42 484.0v3.5M44.5 484.0v3.5M47 484.0v3.5M49.5 484.0v3.5M52 484.0v3.5M54.5 484.0v3.5M57 484.0v3.5M59.5 484.0v3.5M62 484.0v3.5M64.5 484.0v3.5M67 484.0v3.5M69.5 484.0v3.5M72 484.0v3.5M26.2 484.0v4.5" stroke="#333" stroke-width="0.9"/>
<text transform="translate(19.5 288.9) rotate(-90)" font-size="6.0" fill="#444" text-anchor="middle">10<tspan dy="-2.8" font-size="5.1">5</tspan></text>
<text transform="translate(19.5 336.7) rotate(-90)" font-size="6.0" fill="#444" text-anchor="middle">10<tspan dy="-2.8" font-size="5.1">4</tspan></text>
<text transform="translate(19.5 388.9) rotate(-90)" font-size="6.0" fill="#444" text-anchor="middle">10<tspan dy="-2.8" font-size="5.1">3</tspan></text>
<text transform="translate(19.5 437.6) rotate(-90)" font-size="6.0" fill="#444" text-anchor="middle">10<tspan dy="-2.8" font-size="5.1">2</tspan></text>
<text transform="translate(19.5 449) rotate(-90)" font-size="6.0" fill="#444" text-anchor="middle">0</text>
<text transform="translate(19.5 459) rotate(-90)" font-size="6.0" fill="#444" text-anchor="middle">-10<tspan dy="-2.8" font-size="5.1">2</tspan></text>
<text transform="translate(14.5 483) rotate(-90)" font-size="6.0" fill="#444" text-anchor="middle">-386</text>
<text x="24" y="498.5" font-size="6.0" fill="#444" text-anchor="middle">-215</text>
<text x="40" y="496" font-size="6.0" fill="#444" text-anchor="middle">-10<tspan dy="-2.8" font-size="5.1">2</tspan></text>
<text x="55.5" y="496" font-size="6.0" fill="#444" text-anchor="middle">0</text>
<text x="71" y="496" font-size="6.0" fill="#444" text-anchor="middle">10<tspan dy="-2.8" font-size="5.1">2</tspan></text>
<text x="126" y="496" font-size="6.0" fill="#444" text-anchor="middle">10<tspan dy="-2.8" font-size="5.1">3</tspan></text>
<text x="177.2" y="496" font-size="6.0" fill="#444" text-anchor="middle">10<tspan dy="-2.8" font-size="5.1">4</tspan></text>
<text x="228.5" y="496" font-size="6.0" fill="#444" text-anchor="middle">10<tspan dy="-2.8" font-size="5.1">5</tspan></text>
<text transform="translate(9.6 383) rotate(-90)" text-anchor="middle" class="b" font-size="9">CD25</text>
<text x="123.3" y="507.8" class="b" font-size="9">CD4</text>
<rect x="110.8" y="303.8" width="63.2" height="101.4" fill="none" stroke="#555" stroke-width="1"/>
<path d="M110.8 351.0H174.0" stroke="#111" stroke-width="1.4"/>
<path d="M111.6 303.8V405.2" stroke="#666" stroke-width="1.6"/>
<text x="186.9" y="334.3" text-anchor="middle" class="b" font-size="6" letter-spacing="0.6" stroke="#000" stroke-width="0.2">++</text>
<text x="187.4" y="379.4" text-anchor="middle" class="b" font-size="6" stroke="#000" stroke-width="0.2">+</text>
<rect x="26.4" y="276.0" width="84" height="165.6" fill="#fff" stroke="#111" stroke-width="1.4"/>
<text x="39.8" y="281" font-size="3.2" fill="#444" text-anchor="middle">40</text><text x="45.05" y="281" font-size="3.2" fill="#444" text-anchor="middle">43</text><text x="50.3" y="281" font-size="3.2" fill="#444" text-anchor="middle">46</text><text x="55.55" y="281" font-size="3.2" fill="#444" text-anchor="middle">49</text><text x="60.8" y="281" font-size="3.2" fill="#444" text-anchor="middle">52</text><text x="66.05" y="281" font-size="3.2" fill="#444" text-anchor="middle">55</text><text x="71.3" y="281" font-size="3.2" fill="#444" text-anchor="middle">58</text><text x="76.55" y="281" font-size="3.2" fill="#444" text-anchor="middle">61</text><text x="81.8" y="281" font-size="3.2" fill="#444" text-anchor="middle">64</text><text x="87.05" y="281" font-size="3.2" fill="#444" text-anchor="middle">67</text><text x="92.3" y="281" font-size="3.2" fill="#444" text-anchor="middle">70</text><text x="97.55" y="281" font-size="3.2" fill="#444" text-anchor="middle">73</text><text x="102.8" y="281" font-size="3.2" fill="#444" text-anchor="middle">76</text><text x="108.05" y="281" font-size="3.2" fill="#444" text-anchor="middle">79</text>
<rect x="36.0" y="284.2" width="73.8" height="36.6" fill="#fff" stroke="#888" stroke-width="1.2"/>
<path d="M36.0 319.8H109.8" stroke="#999" stroke-width="0.9"/>
<path d="M81.9 319.8L82.6 317.89L83 310.25L83.15 287.97L84.05 287.97L84.2 310.25L84.6 317.89L85.3 319.8Z" fill="#555"/>
<path d="M97.7 319.8L98.4 318.39L98.8 312.74L98.95 296.27L99.85 296.27L100 312.74L100.4 318.39L101.1 319.8Z" fill="#888"/>
<path d="M102.7 319.8L103.4 318.39L103.8 312.74L103.95 296.27L104.85 296.27L105 312.74L105.4 318.39L106.1 319.8Z" fill="#999"/>
<text x="31.5" y="289.2" font-size="2.6" fill="#666" text-anchor="middle">400</text>
<text x="31.5" y="296.35" font-size="2.6" fill="#666" text-anchor="middle">300</text>
<text x="31.5" y="303.5" font-size="2.6" fill="#666" text-anchor="middle">200</text>
<text x="31.5" y="310.65" font-size="2.6" fill="#666" text-anchor="middle">100</text>
<text x="31.5" y="317.8" font-size="2.6" fill="#666" text-anchor="middle">0</text>
<rect x="36.0" y="324.4" width="73.8" height="36.1" fill="#fff" stroke="#888" stroke-width="1.2"/>
<path d="M36.0 359.5H109.8" stroke="#999" stroke-width="0.9"/>
<path d="M82.6 359.5L83.3 359.34L83.7 358.68L83.85 356.77L84.75 356.77L84.9 358.68L85.3 359.34L86 359.5Z" fill="#777"/>
<path d="M97.7 359.5L98.4 357.62L98.8 350.09L98.95 328.13L99.85 328.13L100 350.09L100.4 357.62L101.1 359.5Z" fill="#666"/>
<path d="M102.7 359.5L103.4 357.74L103.8 350.7L103.95 330.17L104.85 330.17L105 350.7L105.4 357.74L106.1 359.5Z" fill="#888"/>
<text x="31.5" y="329.4" font-size="2.6" fill="#666" text-anchor="middle">400</text>
<text x="31.5" y="336.42" font-size="2.6" fill="#666" text-anchor="middle">300</text>
<text x="31.5" y="343.45" font-size="2.6" fill="#666" text-anchor="middle">200</text>
<text x="31.5" y="350.48" font-size="2.6" fill="#666" text-anchor="middle">100</text>
<text x="31.5" y="357.5" font-size="2.6" fill="#666" text-anchor="middle">0</text>
<rect x="36.0" y="364.6" width="73.8" height="35.7" fill="#fff" stroke="#888" stroke-width="1.2"/>
<path d="M36.0 399.3H109.8" stroke="#999" stroke-width="0.9"/>
<path d="M82.6 399.3L83.3 397.38L83.7 389.7L83.85 367.29L84.75 367.29L84.9 389.7L85.3 397.38L86 399.3Z" fill="#555"/>
<path d="M97.7 399.3L98.4 399.14L98.8 398.49L98.95 396.6L99.85 396.6L100 398.49L100.4 399.14L101.1 399.3Z" fill="#888"/>
<path d="M102.7 399.3L103.4 397.32L103.8 389.39L103.95 366.27L104.85 366.27L105 389.39L105.4 397.32L106.1 399.3Z" fill="#aaa"/>
<text x="31.5" y="369.6" font-size="2.6" fill="#666" text-anchor="middle">400</text>
<text x="31.5" y="376.53" font-size="2.6" fill="#666" text-anchor="middle">300</text>
<text x="31.5" y="383.45" font-size="2.6" fill="#666" text-anchor="middle">200</text>
<text x="31.5" y="390.38" font-size="2.6" fill="#666" text-anchor="middle">100</text>
<text x="31.5" y="397.3" font-size="2.6" fill="#666" text-anchor="middle">0</text>
<rect x="36.0" y="404.2" width="73.8" height="36.1" fill="#fff" stroke="#888" stroke-width="1.2"/>
<path d="M36.0 439.3H109.8" stroke="#999" stroke-width="0.9"/>
<path d="M82.6 439.3L83.3 437.5L83.7 430.3L83.85 409.29L84.75 409.29L84.9 430.3L85.3 437.5L86 439.3Z" fill="#555"/>
<path d="M97.7 439.3L98.4 439.14L98.8 438.48L98.95 436.57L99.85 436.57L100 438.48L100.4 439.14L101.1 439.3Z" fill="#888"/>
<path d="M102.7 439.3L103.4 437.75L103.8 431.53L103.95 413.38L104.85 413.38L105 431.53L105.4 437.75L106.1 439.3Z" fill="#aaa"/>
<text x="31.5" y="409.2" font-size="2.6" fill="#666" text-anchor="middle">400</text>
<text x="31.5" y="416.23" font-size="2.6" fill="#666" text-anchor="middle">300</text>
<text x="31.5" y="423.25" font-size="2.6" fill="#666" text-anchor="middle">200</text>
<text x="31.5" y="430.27" font-size="2.6" fill="#666" text-anchor="middle">100</text>
<text x="31.5" y="437.3" font-size="2.6" fill="#666" text-anchor="middle">0</text>
<text x="43.8" y="299.8" class="b" font-size="8.9">control</text>
<text x="70.4" y="346.3" text-anchor="middle" class="b" font-size="8.7">d</text>
<text x="70.4" y="388.2" text-anchor="middle" class="b" font-size="8.7">r</text>
<text x="70.4" y="428.8" text-anchor="middle" class="b" font-size="8.7">r</text>
<text transform="translate(50.2 361) rotate(-90)" text-anchor="middle" class="b" font-size="8.8">STR—PCR</text>
<path d="M132.5 335.3H115" stroke="#000" stroke-width="1.7"/>
<path d="M110.8 335.3L117 332.3L117 338.3Z" fill="#000"/>
<path d="M132.5 376.6H115" stroke="#000" stroke-width="1.7"/>
<path d="M110.8 376.6L117 373.6L117 379.6Z" fill="#000"/>
<path d="M132.5 423.4H115" stroke="#000" stroke-width="1.7"/>
<path d="M110.8 423.4L117 420.4L117 426.4Z" fill="#000"/>
</svg>
</body></html>
